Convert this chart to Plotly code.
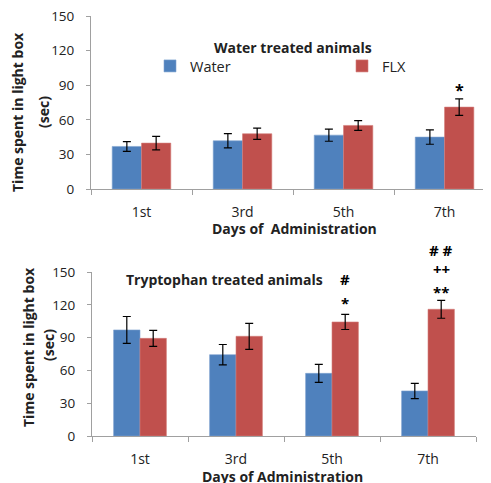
import plotly.graph_objects as go

days = ["1st", "3rd", "5th", "7th"]
y_ticks = [0, 30, 60, 90, 120, 150]

water_top = [36.9, 41.8, 46.7, 45.0]
water_top_err = [4.2, 6.2, 5.3, 6.2]
flx_top = [39.8, 47.9, 55.1, 71.0]
flx_top_err = [5.9, 4.8, 4.2, 7.2]

water_bot = [97.0, 74.4, 57.3, 41.2]
water_bot_err = [12.3, 9.3, 8.2, 7.0]
flx_bot = [89.3, 91.2, 104.3, 115.9]
flx_bot_err = [7.3, 11.9, 6.9, 8.2]

# significance marks: (day index, text, y value)
marks_top = [(3, "*", 97)]
marks_bot = [(2, "#", 143.6), (2, "*", 121.5), (3, "# #", 170), (3, "++", 152.7), (3, "**", 131.5)]

BLUE = "#4F81BD"
RED = "#C0504D"
FONT = "Open Sans"
AXC = "#A0A0A0"
TXT = "#222222"

W_TOP = 0.29
W_BOT = 0.275

FW, FH = 491, 483
OFF = 8  # page body margin


def px(x):
    return (x - OFF) / FW


def py(y):
    return 1 - (y - OFF) / FH


TOP_DOM = [py(189), py(16)]
BOT_DOM = [py(436), py(272)]
YMAX = 150

fig = go.Figure()
err_style = dict(type="data", color="black", thickness=1.2, width=4)
BLUE_LINE = dict(color="#7FA2D0", width=0.6)
RED_LINE = dict(color="#D47C79", width=0.6)

fig.add_trace(go.Bar(x=days, y=water_top, name="Water", marker=dict(color=BLUE, line=BLUE_LINE),
                     width=W_TOP, offset=-W_TOP,
                     error_y=dict(array=water_top_err, **err_style), xaxis="x", yaxis="y"))
fig.add_trace(go.Bar(x=days, y=flx_top, name="FLX", marker=dict(color=RED, line=RED_LINE),
                     width=W_TOP, offset=0,
                     error_y=dict(array=flx_top_err, **err_style), xaxis="x", yaxis="y"))
fig.add_trace(go.Bar(x=days, y=water_bot, name="Water", marker=dict(color=BLUE, line=BLUE_LINE),
                     showlegend=False, width=W_BOT, offset=-W_BOT,
                     error_y=dict(array=water_bot_err, **err_style), xaxis="x2", yaxis="y2"))
fig.add_trace(go.Bar(x=days, y=flx_bot, name="FLX", marker=dict(color=RED, line=RED_LINE),
                     showlegend=False, width=W_BOT, offset=0,
                     error_y=dict(array=flx_bot_err, **err_style), xaxis="x2", yaxis="y2"))

xcommon = dict(type="category", ticks="outside", tickson="boundaries", ticklen=5,
               tickcolor=AXC, showline=True, linecolor=AXC, linewidth=1, ticklabelstandoff=10,
               tickfont=dict(family=FONT, size=14, color=TXT), showgrid=False, zeroline=False)
ycommon = dict(range=[0, YMAX], tickvals=y_ticks, ticks="outside", ticklen=4,
               tickcolor=AXC, showline=True, linecolor=AXC, linewidth=1, ticklabelstandoff=9,
               ticklabeloverflow="allow",
               tickfont=dict(family=FONT, size=13.5, color=TXT), showgrid=False, zeroline=False)

fig.update_layout(
    width=FW, height=FH,
    margin=dict(l=0, r=0, t=0, b=0, autoexpand=False),
    paper_bgcolor="white", plot_bgcolor="white",
    barmode="group",
    showlegend=True,
    legend=dict(orientation="h", x=px(150), y=py(66), xanchor="left", yanchor="middle",
                entrywidth=147, entrywidthmode="pixels", tracegroupgap=0,
                font=dict(family=FONT, size=14.5, color=TXT), bgcolor="rgba(0,0,0,0)"),
    xaxis=dict(domain=[px(91), px(491)], range=[-0.5, 3.46], anchor="y", **xcommon),
    yaxis=dict(domain=TOP_DOM, anchor="x", **ycommon),
    xaxis2=dict(domain=[px(92), px(476)], range=[-0.5, 3.5], anchor="y2", **xcommon),
    yaxis2=dict(domain=BOT_DOM, anchor="x2", **ycommon),
)

ann = []
for i, t, yv in marks_top:
    ann.append(dict(x=i + W_TOP / 2, y=TOP_DOM[0] + yv / YMAX * (TOP_DOM[1] - TOP_DOM[0]),
                    xref="x", yref="paper", text="<b>%s</b>" % t, showarrow=False,
                    font=dict(family=FONT, size=16, color="black")))
for i, t, yv in marks_bot:
    ann.append(dict(x=i + W_BOT / 2, y=BOT_DOM[0] + yv / YMAX * (BOT_DOM[1] - BOT_DOM[0]),
                    xref="x2", yref="paper", text="<b>%s</b>" % t, showarrow=False,
                    font=dict(family=FONT, size=15, color="black")))


def paper_text(x, y, text, size, angle=0):
    return dict(x=px(x), y=py(y), xref="paper", yref="paper", text=text,
                textangle=angle, showarrow=False, xanchor="center", yanchor="middle",
                font=dict(family=FONT, size=size, color=TXT))


ann += [
    paper_text(293, 47, "<b>Water treated animals</b>", 14),
    paper_text(224, 279, "<b>Tryptophan treated animals</b>", 14),
    paper_text(17, 112, "<b>Time spent in light box</b>", 14, -90),
    paper_text(43, 112, "<b>(sec)</b>", 14, -90),
    paper_text(28, 347, "<b>Time spent in light box</b>", 14, -90),
    paper_text(48, 345, "<b>(sec)</b>", 14, -90),
    paper_text(294, 229, "<b>Days of  Administration</b>", 14),
    paper_text(282, 476, "<b>Days of Administration</b>", 14),
]
fig.update_layout(annotations=ann)

fig.write_html("out.html")
